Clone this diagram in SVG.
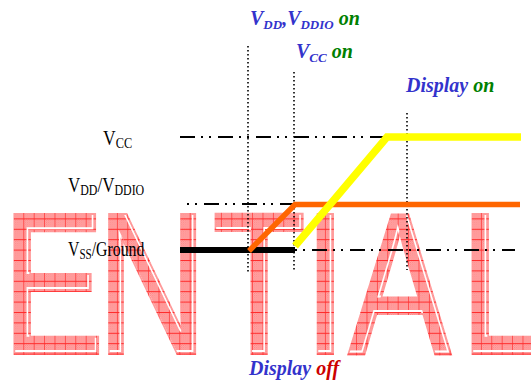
<svg xmlns="http://www.w3.org/2000/svg" xmlns:xlink="http://www.w3.org/1999/xlink" width="531" height="383" viewBox="0 0 531 383">
  <style>
    .wmf { font-family: "Liberation Sans", Arial, sans-serif; font-size: 200px; }
    .lbl { font-family: "Liberation Serif", "Times New Roman", serif; font-size: 20px; fill: #000; }
    .bi { font-family: "Liberation Serif", "Times New Roman", serif; font-size: 20px; font-weight: bold; font-style: italic; }
    .blue { fill: #3333cc; }
    .green { fill: #008000; }
    .red { fill: #cc0000; }
    .sub { font-size: 13px; }
    .lsub { font-size: 14px; }
    .dot { stroke: #000; stroke-width: 1.6; stroke-dasharray: 1.5 2.5; fill: none; }
    .dd { stroke: #000; stroke-width: 2; stroke-dasharray: 15 6 2 6 2 7; fill: none; }
  </style>
  <defs>
    <pattern id="checker" patternUnits="userSpaceOnUse" width="2" height="2">
      <rect width="2" height="2" fill="#ffb8b8"/>
      <rect width="1" height="1" fill="#ff7d7d"/>
      <rect x="1" y="1" width="1" height="1" fill="#ff7d7d"/>
    </pattern>
    <pattern id="hatch" patternUnits="userSpaceOnUse" x="2.5" y="0" width="10.4" height="10.4" patternTransform="scale(1.3158,1)">
      <rect width="10.4" height="10.4" fill="url(#checker)"/>
      <path d="M0 0.5H10.4" stroke="#ff2a2a" stroke-width="1"/>
      <path d="M0.38 0V10.4" stroke="#ff2a2a" stroke-width="0.76"/>
    </pattern>
    <text id="wmtext" class="wmf" x="3.6 127.9 280 400.4 459.1 606.4" y="353">ENTIAL</text>
    <clipPath id="wmclip">
      <use href="#wmtext" xlink:href="#wmtext" transform="scale(0.76,1)"/>
    </clipPath>
  </defs>

  <rect width="531" height="383" fill="#fff"/>

  <g id="watermark">
    <use href="#wmtext" xlink:href="#wmtext" transform="scale(0.76,1)" fill="url(#hatch)" stroke="url(#hatch)" stroke-width="4" vector-effect="non-scaling-stroke"/>
    <g clip-path="url(#wmclip)">
      <use href="#wmtext" xlink:href="#wmtext" transform="translate(-2,-2) scale(0.76,1)" fill="none" stroke="#fff" stroke-width="2" vector-effect="non-scaling-stroke"/>
    </g>
  </g>

  <g id="connectors">
    <path class="dot" d="M248 46V272"/>
    <path class="dot" d="M294 72V272"/>
    <path class="dot" d="M407 113V270"/>
    <path class="dd" d="M180 137H385"/>
    <path class="dd" d="M187 204H295" stroke-dashoffset="21"/>
    <path class="dd" d="M295 250H515" stroke-dashoffset="21"/>
  </g>

  <g id="vss-line">
    <path d="M180 250H295" stroke="#000" stroke-width="6" fill="none"/>
  </g>
  <g id="vdd-line">
    <path d="M249 251L295 204.5H520" stroke="#ff6600" stroke-width="5.5" fill="none" stroke-linejoin="miter"/>
  </g>
  <g id="vcc-line">
    <path d="M295 246L387 137H521" stroke="#ffff00" stroke-width="7.5" fill="none" stroke-linejoin="miter"/>
  </g>

  <g id="label-vcc">
    <text class="lbl" transform="translate(103,145) scale(0.88,1)">V<tspan class="lsub" dy="3">CC</tspan></text>
  </g>
  <g id="label-vdd">
    <text class="lbl" transform="translate(68,192) scale(0.85,1)">V<tspan class="lsub" dy="3">DD</tspan><tspan dy="-3">/V</tspan><tspan class="lsub" dy="3">DDIO</tspan></text>
  </g>
  <g id="label-vss">
    <text class="lbl" transform="translate(68,256) scale(0.79,1)">V<tspan class="lsub" dy="3">SS</tspan><tspan dy="-3">/Ground</tspan></text>
  </g>

  <g id="event-vdd-on">
    <text class="bi blue" x="250" y="25">V<tspan class="sub" dy="4">DD</tspan><tspan dy="-4">,V</tspan><tspan class="sub" dy="4">DDIO</tspan><tspan class="green" dy="-4"> on</tspan></text>
  </g>
  <g id="event-vcc-on">
    <text class="bi blue" x="296" y="58">V<tspan class="sub" dy="4">CC</tspan><tspan class="green" dy="-4"> on</tspan></text>
  </g>
  <g id="event-display-on">
    <text class="bi blue" x="406" y="92">Display<tspan class="green"> on</tspan></text>
  </g>
  <g id="event-display-off">
    <text class="bi blue" x="249" y="375">Display<tspan class="red"> off</tspan></text>
  </g>
</svg>
